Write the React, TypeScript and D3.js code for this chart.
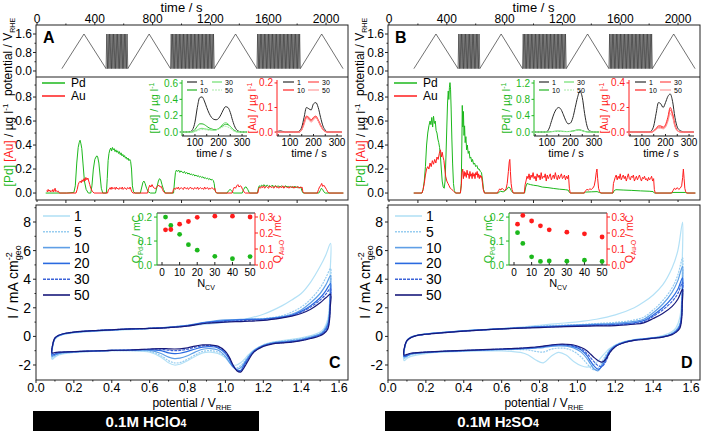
import React from "react";
import * as d3 from "d3";

type P = [number, number];
const run = (t0: number, dt: number, v: number[]): P[] => v.map((y, i) => [t0 + i * dt, y] as P);

// ---------------- potential program (s) ----------------
const slowCVs: number[][] = [[172, 478], [628, 924], [1226, 1522], [1822, 2118]];
const fastBlocks: number[][] = [[478, 628, 16], [924, 1226, 32], [1522, 1822, 32]];
const potLow = 0.1;
const potHigh = 1.6;

// ---------------- tick labels ----------------
const timeTicks = [0, 400, 800, 1200, 1600, 2000];
const potTicks = [0, 0.8, 1.6];
const concTicks = [0, 0.2, 0.4, 0.6, 0.8];
const cvYTicks = [-2, 0, 2, 4, 6, 8];
const cvXTicks = [0, 0.2, 0.4, 0.6, 0.8, 1.0, 1.2, 1.4, 1.6];
const insetTimeTicks = [100, 200, 300];
const nTicks = [0, 10, 20, 30, 40, 50];
const qPdTicks = [0, 0.1, 0.2];
const qAuTicks = [0, 0.1, 0.2, 0.3];

// ---------------- dissolution profiles (time s, µg/l) ----------------
const pdA: P[] = [
  [60, 0], [205, 0], [255, 0.005], [265, 0.06], [275, 0.25], [285, 0.38], [292, 0.42], [298, 0.44], [304, 0.41], [310, 0.37], [318, 0.25], [328, 0.1], [340, 0.03], [355, 0],
  [372, 0], [380, 0.06], [390, 0.2], [400, 0.28], [408, 0.3], [414, 0.31], [420, 0.3], [428, 0.25], [436, 0.15], [445, 0.04], [455, 0],
  [480, 0], [486, 0.12], [492, 0.27], [498, 0.33],
  ...run(504, 6, [0.36, 0.375, 0.35, 0.38, 0.36, 0.37, 0.345, 0.36, 0.34, 0.352, 0.33, 0.345, 0.32, 0.335, 0.31, 0.322, 0.3, 0.312, 0.29, 0.3, 0.28, 0.292, 0.27, 0.28, 0.262]),
  [654, 0.2], [660, 0.06], [668, 0.01], [680, 0],
  [715, 0], [725, 0.05], [733, 0.09], [740, 0.1], [748, 0.08], [758, 0.04], [770, 0.01], [785, 0],
  [820, 0], [830, 0.05], [840, 0.1], [848, 0.12], [856, 0.11], [865, 0.07], [875, 0.03], [888, 0],
  [945, 0], [952, 0.1], [958, 0.17],
  ...run(964, 8, [0.19, 0.18, 0.192, 0.172, 0.185, 0.175, 0.168, 0.18, 0.162, 0.172, 0.158, 0.167, 0.152, 0.16, 0.148, 0.156, 0.142, 0.15, 0.138, 0.146, 0.132, 0.14, 0.128, 0.136, 0.122, 0.13, 0.118, 0.125, 0.112, 0.12, 0.108, 0.114, 0.104]),
  [1226, 0.08], [1232, 0.02], [1242, 0],
  [1315, 0], [1326, 0.02], [1336, 0.03], [1346, 0.02], [1358, 0],
  [1420, 0], [1430, 0.03], [1440, 0.05], [1448, 0.05], [1458, 0.03], [1470, 0],
  [1525, 0], [1532, 0.04],
  ...run(1538, 8, [0.06, 0.055, 0.066, 0.058, 0.07, 0.055, 0.062, 0.066, 0.054, 0.06, 0.052, 0.065, 0.058, 0.054, 0.062, 0.05, 0.06, 0.055, 0.05, 0.06, 0.054, 0.05, 0.056, 0.06, 0.05, 0.055, 0.048, 0.055, 0.05, 0.045, 0.052, 0.055, 0.048, 0.045, 0.05, 0.044, 0.05]),
  [1832, 0.02], [1842, 0],
  [1950, 0], [1960, 0.02], [1968, 0.04], [1976, 0.03], [1985, 0.01], [1995, 0], [2120, 0],
];

const auA: P[] = [
  [67, 0.02], [72, 0.01], [77, 0.03], [82, 0.015], [88, 0.025], [93, 0.01], [98, 0.02], [104, 0.012], [110, 0.03], [115, 0.01], [120, 0.02], [125, 0.04], [130, 0.012], [136, 0.02], [142, 0.01], [148, 0.015], [155, 0],
  [270, 0], [278, 0.03], [285, 0.07], [292, 0.09], [300, 0.1], [306, 0.085], [312, 0.11], [318, 0.095], [325, 0.12], [332, 0.1], [338, 0.13], [345, 0.11], [352, 0.125], [358, 0.1], [365, 0.07], [372, 0.04], [382, 0.015], [395, 0],
  [488, 0], [494, 0.025],
  ...run(500, 6, [0.035, 0.045, 0.03, 0.05, 0.035, 0.04, 0.045, 0.03, 0.05, 0.035, 0.04, 0.03, 0.045, 0.04, 0.035, 0.05, 0.03, 0.04, 0.045, 0.035, 0.03, 0.045, 0.04, 0.035, 0.05, 0.03]),
  [656, 0.01], [664, 0],
  [765, 0], [772, 0.04], [780, 0.065], [788, 0.05], [796, 0.07], [804, 0.05], [812, 0.04], [820, 0.035], [828, 0.05], [836, 0.06], [844, 0.065], [852, 0.05], [860, 0.055], [868, 0.03], [876, 0.01], [885, 0],
  [938, 0], [944, 0.03],
  ...run(950, 7, [0.04, 0.03, 0.045, 0.035, 0.05, 0.03, 0.04, 0.045, 0.035, 0.03, 0.05, 0.04, 0.035, 0.045, 0.03, 0.04, 0.05, 0.035, 0.04, 0.03, 0.045, 0.04, 0.035, 0.05, 0.03, 0.04, 0.045, 0.035, 0.04, 0.03, 0.05, 0.035, 0.04, 0.045, 0.03, 0.04, 0.035, 0.045, 0.04, 0.03, 0.04]),
  [1236, 0.01], [1244, 0],
  [1350, 0], [1358, 0.03], [1366, 0.05], [1374, 0.04], [1382, 0.06], [1390, 0.07], [1398, 0.05], [1406, 0.06], [1414, 0.055], [1422, 0.03], [1432, 0.01], [1442, 0],
  [1528, 0], [1534, 0.035],
  ...run(1540, 7, [0.05, 0.04, 0.055, 0.045, 0.06, 0.04, 0.05, 0.055, 0.045, 0.04, 0.06, 0.05, 0.045, 0.055, 0.04, 0.05, 0.06, 0.045, 0.05, 0.04, 0.055, 0.05, 0.045, 0.06, 0.04, 0.05, 0.055, 0.045, 0.05, 0.04, 0.055, 0.045, 0.05, 0.055, 0.04, 0.05, 0.045, 0.055, 0.05, 0.04, 0.05, 0.045, 0.05]),
  [1840, 0.01], [1848, 0],
  [1940, 0], [1948, 0.03], [1955, 0.05], [1962, 0.06], [1970, 0.08], [1977, 0.055], [1985, 0.065], [1993, 0.05], [2003, 0.03], [2012, 0.01], [2020, 0], [2120, 0],
];

const pdB: P[] = [
  [171, 0], [228, 0], [236, 0.03], [244, 0.1], [252, 0.22], [260, 0.4], [268, 0.5], [276, 0.56], [284, 0.6], [290, 0.57], [296, 0.63], [302, 0.55], [308, 0.64], [314, 0.58], [320, 0.6], [326, 0.52], [332, 0.5], [338, 0.45], [344, 0.42], [350, 0.38], [356, 0.3], [362, 0.2], [368, 0.1], [375, 0.05], [382, 0.04],
  [388, 0.1], [394, 0.3], [400, 0.55], [405, 0.75], [410, 0.85], [414, 0.78], [418, 0.88], [422, 0.92], [426, 0.86], [430, 0.7], [435, 0.45], [440, 0.25], [446, 0.08], [452, 0.02], [460, 0],
  [494, 0], [500, 0.08], [504, 0.4], [507, 0.73], [511, 0.55], [515, 0.68], [519, 0.48], [523, 0.56], [527, 0.42], [532, 0.47], [537, 0.36], [542, 0.4], [548, 0.33], [554, 0.35], [560, 0.29], [566, 0.3], [572, 0.26], [578, 0.28], [585, 0.24], [592, 0.25], [600, 0.22], [608, 0.23], [616, 0.2], [624, 0.2], [632, 0.18], [640, 0.17], [648, 0.1], [654, 0.03], [662, 0],
  [755, 0], [770, 0.015], [790, 0.01], [805, 0.02], [815, 0.03], [822, 0.045], [830, 0.05], [838, 0.04], [846, 0.02], [855, 0.005], [865, 0],
  [938, 0], [946, 0.05], [955, 0.08], [965, 0.075], [980, 0.07], [1000, 0.065], [1030, 0.06], [1060, 0.05], [1100, 0.045], [1140, 0.038], [1180, 0.032], [1220, 0.028], [1240, 0.024], [1248, 0.005], [1256, 0],
  [1350, 0], [1360, 0.008], [1400, 0.01], [1440, 0.012], [1455, 0.005], [1465, 0],
  [1550, 0], [1558, 0.02], [1570, 0.028], [1620, 0.025], [1680, 0.022], [1740, 0.018], [1800, 0.015], [1828, 0.012], [1836, 0],
  [1955, 0], [1965, 0.005], [2050, 0.005], [2060, 0], [2120, 0],
];

const auB: P[] = [
  [171, 0], [228, 0], [236, 0.03], [244, 0.08], [252, 0.15], [260, 0.2], [268, 0.22], [276, 0.2], [284, 0.25], [292, 0.22], [300, 0.27], [308, 0.24], [316, 0.28], [324, 0.25], [332, 0.3], [340, 0.28], [348, 0.33], [356, 0.36], [362, 0.3], [368, 0.34], [374, 0.3], [380, 0.27], [386, 0.2], [392, 0.14], [400, 0.1], [408, 0.08], [416, 0.06], [424, 0.04], [434, 0.03], [444, 0.02], [452, 0.01], [460, 0],
  [494, 0], [500, 0.06], [505, 0.17],
  ...run(510, 5, [0.2, 0.12, 0.18, 0.14, 0.17, 0.13, 0.19, 0.15, 0.16, 0.12, 0.18, 0.14, 0.16, 0.12, 0.17, 0.14, 0.16, 0.12, 0.17, 0.15, 0.18, 0.13, 0.16, 0.12, 0.15, 0.13, 0.14]),
  [646, 0.09], [652, 0.03], [660, 0],
  [750, 0], [758, 0.02], [766, 0.035], [774, 0.025], [782, 0.04], [790, 0.03], [800, 0.02], [810, 0.035], [818, 0.08], [826, 0.18], [832, 0.26], [836, 0.28], [840, 0.18], [845, 0.08], [851, 0.03], [860, 0],
  [936, 0], [942, 0.07],
  ...run(948, 7, [0.1, 0.14, 0.12, 0.16, 0.11, 0.15, 0.13, 0.17, 0.12, 0.14, 0.1, 0.16, 0.13, 0.15, 0.11, 0.17, 0.12, 0.14, 0.13, 0.16, 0.1, 0.15, 0.12, 0.14, 0.16, 0.11, 0.13, 0.15, 0.12, 0.17, 0.13, 0.11, 0.15, 0.12, 0.14, 0.16, 0.12, 0.13, 0.15, 0.11, 0.14, 0.12, 0.15]),
  [1248, 0.04], [1254, 0],
  [1350, 0], [1360, 0.02], [1370, 0.03], [1380, 0.025], [1390, 0.035], [1400, 0.03], [1410, 0.04], [1420, 0.06], [1428, 0.11], [1434, 0.17], [1439, 0.2], [1444, 0.12], [1450, 0.04], [1458, 0.01], [1466, 0],
  [1548, 0], [1553, 0.08],
  ...run(1558, 7, [0.1, 0.13, 0.15, 0.11, 0.14, 0.12, 0.16, 0.11, 0.13, 0.15, 0.12, 0.14, 0.1, 0.13, 0.16, 0.12, 0.11, 0.14, 0.13, 0.15, 0.1, 0.12, 0.14, 0.11, 0.13, 0.15, 0.12, 0.1, 0.13, 0.12, 0.14, 0.11, 0.12, 0.1, 0.13, 0.11, 0.12, 0.14, 0.1, 0.12]),
  [1836, 0.03], [1842, 0],
  [1955, 0], [1965, 0.02], [1975, 0.04], [1985, 0.03], [1995, 0.045], [2005, 0.03], [2015, 0.04], [2025, 0.06], [2032, 0.13], [2037, 0.2], [2042, 0.12], [2047, 0.04], [2053, 0.01], [2062, 0], [2120, 0],
];

// ---------------- inset transients (time s) ----------------
const insetCycles = ["1", "10", "30", "50"];
const tIns = [40, 60, 80, 90, 100, 110, 120, 130, 140, 150, 160, 170, 180, 190, 200, 210, 220, 230, 240, 250, 260, 270, 280, 300, 320];
const insPdA = [
  [0, 0, 0.005, 0.03, 0.12, 0.3, 0.42, 0.43, 0.38, 0.3, 0.23, 0.18, 0.155, 0.15, 0.165, 0.21, 0.27, 0.31, 0.3, 0.24, 0.14, 0.06, 0.02, 0, 0],
  [0, 0, 0, 0.005, 0.03, 0.07, 0.1, 0.1, 0.09, 0.07, 0.05, 0.04, 0.03, 0.03, 0.04, 0.06, 0.08, 0.095, 0.09, 0.07, 0.04, 0.015, 0.005, 0, 0],
  [0, 0, 0, 0, 0.01, 0.025, 0.04, 0.045, 0.04, 0.035, 0.03, 0.025, 0.02, 0.025, 0.04, 0.07, 0.1, 0.115, 0.1, 0.07, 0.035, 0.01, 0, 0, 0],
  [0, 0, 0, 0, 0.005, 0.015, 0.025, 0.03, 0.03, 0.025, 0.02, 0.02, 0.02, 0.025, 0.035, 0.05, 0.065, 0.07, 0.06, 0.045, 0.02, 0.005, 0, 0, 0],
];
const insAuA = [
  [0, 0.005, 0, 0, 0, 0, 0, 0, 0.005, 0.02, 0.06, 0.1, 0.095, 0.09, 0.115, 0.12, 0.1, 0.06, 0.025, 0.008, 0, 0, 0, 0, 0],
  [0, 0, 0, 0, 0, 0, 0, 0, 0, 0.01, 0.04, 0.065, 0.06, 0.05, 0.06, 0.065, 0.05, 0.03, 0.012, 0.003, 0, 0, 0, 0, 0],
  [0, 0, 0, 0, 0, 0, 0, 0, 0, 0.01, 0.035, 0.06, 0.055, 0.045, 0.055, 0.06, 0.045, 0.025, 0.01, 0.002, 0, 0, 0, 0, 0],
  [0, 0, 0, 0, 0, 0, 0, 0, 0, 0.008, 0.03, 0.055, 0.05, 0.04, 0.05, 0.058, 0.045, 0.025, 0.01, 0.002, 0, 0, 0, 0, 0],
];
const insPdB = [
  [0, 0, 0, 0, 0.01, 0.1, 0.28, 0.45, 0.56, 0.6, 0.55, 0.42, 0.28, 0.2, 0.22, 0.35, 0.6, 0.85, 1.0, 0.85, 0.45, 0.15, 0.03, 0, 0],
  [0, 0, 0, 0, 0, 0.005, 0.01, 0.015, 0.02, 0.02, 0.018, 0.015, 0.012, 0.012, 0.015, 0.025, 0.04, 0.05, 0.05, 0.035, 0.015, 0.005, 0, 0, 0],
  [0, 0, 0, 0, 0, 0.005, 0.01, 0.012, 0.015, 0.015, 0.014, 0.012, 0.01, 0.01, 0.013, 0.02, 0.035, 0.045, 0.045, 0.03, 0.012, 0.004, 0, 0, 0],
  [0, 0, 0, 0, 0, 0.003, 0.008, 0.01, 0.012, 0.012, 0.012, 0.01, 0.008, 0.008, 0.01, 0.018, 0.03, 0.04, 0.04, 0.028, 0.01, 0.003, 0, 0, 0],
];
const insAuB = [
  [0, 0, 0, 0, 0, 0, 0, 0, 0.01, 0.05, 0.15, 0.24, 0.23, 0.2, 0.24, 0.29, 0.31, 0.25, 0.12, 0.04, 0.015, 0.005, 0, 0, 0],
  [0, 0, 0, 0, 0, 0, 0, 0, 0, 0.01, 0.03, 0.05, 0.05, 0.04, 0.06, 0.12, 0.2, 0.15, 0.06, 0.015, 0.003, 0, 0, 0, 0],
  [0, 0, 0, 0, 0, 0, 0, 0, 0, 0.008, 0.025, 0.04, 0.04, 0.032, 0.05, 0.1, 0.18, 0.14, 0.05, 0.012, 0.002, 0, 0, 0, 0],
  [0, 0, 0, 0, 0, 0, 0, 0, 0, 0.006, 0.02, 0.032, 0.032, 0.026, 0.04, 0.085, 0.15, 0.12, 0.045, 0.01, 0.002, 0, 0, 0, 0],
];
const insPdTicksA = [0, 0.2, 0.4, 0.6];
const insPdTicksB = [0, 0.4, 0.8, 1.2];
const insAuTicksA = [0, 0.1, 0.2];
const insAuTicksB = [0, 0.2, 0.4];

// ---------------- cyclic voltammograms (V_RHE, mA cm-2) ----------------
const cvCycles = ["1", "5", "10", "20", "30", "50"];
const eUp = [0.085, 0.09, 0.1, 0.12, 0.15, 0.2, 0.3, 0.4, 0.5, 0.6, 0.7, 0.8, 0.9, 1.0, 1.1, 1.2, 1.3, 1.35, 1.4, 1.45, 1.5, 1.53, 1.555];
const eDownC = [1.555, 1.553, 1.55, 1.54, 1.52, 1.5, 1.45, 1.4, 1.35, 1.3, 1.25, 1.2, 1.15, 1.12, 1.1, 1.08, 1.06, 1.04, 1.02, 1.0, 0.96, 0.92, 0.88, 0.84, 0.8, 0.76, 0.73, 0.7, 0.66, 0.6, 0.5, 0.4, 0.3, 0.2, 0.12, 0.1, 0.085];
const eDownD = [1.555, 1.553, 1.55, 1.54, 1.52, 1.5, 1.45, 1.4, 1.35, 1.3, 1.25, 1.2, 1.17, 1.15, 1.13, 1.11, 1.09, 1.07, 1.05, 1.02, 0.98, 0.94, 0.9, 0.86, 0.82, 0.78, 0.74, 0.7, 0.65, 0.6, 0.5, 0.4, 0.3, 0.2, 0.12, 0.1, 0.085];

const cvUpC = [
  [-1.6, -0.6, -0.2, 0.02, 0.15, 0.25, 0.35, 0.42, 0.48, 0.55, 0.65, 0.75, 0.85, 1.0, 1.2, 1.55, 2.15, 2.55, 3.0, 3.8, 4.9, 5.7, 6.5],
  [-1.5, -0.55, -0.17, 0.04, 0.17, 0.27, 0.37, 0.44, 0.5, 0.56, 0.65, 0.78, 0.95, 1.1, 1.18, 1.25, 1.45, 1.7, 2.05, 2.6, 3.4, 4.1, 4.75],
  [-1.4, -0.52, -0.15, 0.05, 0.18, 0.28, 0.38, 0.45, 0.51, 0.56, 0.64, 0.78, 1.0, 1.15, 1.2, 1.22, 1.38, 1.55, 1.85, 2.35, 3.0, 3.6, 4.25],
  [-1.3, -0.5, -0.13, 0.06, 0.19, 0.29, 0.39, 0.46, 0.52, 0.56, 0.63, 0.76, 0.98, 1.1, 1.18, 1.2, 1.35, 1.48, 1.75, 2.15, 2.7, 3.2, 3.7],
  [-1.2, -0.48, -0.12, 0.07, 0.2, 0.3, 0.4, 0.46, 0.52, 0.56, 0.62, 0.74, 0.95, 1.05, 1.12, 1.17, 1.32, 1.45, 1.7, 2.05, 2.55, 2.95, 3.35],
  [-1.15, -0.45, -0.1, 0.08, 0.2, 0.3, 0.4, 0.46, 0.52, 0.56, 0.62, 0.72, 0.92, 1.0, 1.05, 1.12, 1.3, 1.42, 1.6, 1.9, 2.35, 2.7, 2.95],
];
const cvDownC = [
  [6.5, 4.5, 2.5, 1.2, 0.55, 0.3, 0.05, -0.1, -0.2, -0.3, -0.4, -0.6, -0.95, -1.3, -1.6, -1.85, -2.0, -2.0, -1.8, -1.5, -1.2, -1.1, -1.15, -1.4, -1.7, -1.95, -2.0, -1.85, -1.45, -1.1, -1.0, -1.0, -1.05, -1.12, -1.3, -1.45, -1.6],
  [4.75, 3.3, 2.0, 1.0, 0.45, 0.22, 0.0, -0.15, -0.25, -0.33, -0.42, -0.6, -1.0, -1.4, -1.75, -2.05, -2.2, -2.1, -1.8, -1.45, -1.1, -1.0, -1.05, -1.3, -1.6, -1.83, -1.85, -1.7, -1.35, -1.05, -1.0, -1.0, -1.05, -1.1, -1.25, -1.4, -1.5],
  [4.25, 3.0, 1.8, 0.9, 0.4, 0.18, -0.05, -0.2, -0.3, -0.37, -0.45, -0.62, -1.0, -1.45, -1.85, -2.2, -2.3, -2.15, -1.8, -1.4, -0.95, -0.85, -0.9, -1.1, -1.35, -1.52, -1.55, -1.45, -1.2, -0.98, -0.97, -0.98, -1.03, -1.08, -1.2, -1.32, -1.4],
  [3.7, 2.6, 1.6, 0.75, 0.32, 0.12, -0.1, -0.25, -0.35, -0.42, -0.48, -0.65, -1.05, -1.55, -1.95, -2.38, -2.35, -2.1, -1.6, -1.2, -0.8, -0.72, -0.75, -0.88, -1.05, -1.18, -1.2, -1.15, -1.0, -0.92, -0.95, -0.98, -1.02, -1.07, -1.15, -1.25, -1.3],
  [3.35, 2.3, 1.4, 0.6, 0.25, 0.08, -0.12, -0.28, -0.38, -0.44, -0.5, -0.67, -1.08, -1.6, -2.05, -2.45, -2.35, -2.05, -1.5, -1.1, -0.72, -0.65, -0.66, -0.75, -0.9, -0.98, -1.0, -0.97, -0.9, -0.9, -0.95, -0.98, -1.02, -1.07, -1.12, -1.18, -1.2],
  [2.95, 2.0, 1.2, 0.5, 0.2, 0.05, -0.15, -0.3, -0.4, -0.46, -0.52, -0.7, -1.1, -1.7, -2.15, -2.5, -2.4, -2.0, -1.45, -1.05, -0.68, -0.6, -0.6, -0.68, -0.8, -0.87, -0.88, -0.87, -0.85, -0.88, -0.95, -0.98, -1.02, -1.07, -1.1, -1.13, -1.15],
];
const cvUpD = [
  [-1.7, -0.7, -0.3, -0.05, 0.08, 0.18, 0.3, 0.4, 0.48, 0.55, 0.65, 0.78, 0.9, 1.02, 1.2, 1.5, 2.0, 2.4, 2.9, 3.6, 4.8, 6.0, 8.0],
  [-1.55, -0.68, -0.3, -0.06, 0.07, 0.17, 0.29, 0.39, 0.47, 0.54, 0.62, 0.72, 0.78, 0.82, 0.9, 0.98, 1.15, 1.35, 1.85, 2.5, 3.4, 4.3, 5.5],
  [-1.45, -0.66, -0.3, -0.07, 0.06, 0.16, 0.28, 0.38, 0.46, 0.53, 0.6, 0.68, 0.74, 0.8, 0.86, 0.92, 1.05, 1.2, 1.65, 2.25, 3.1, 3.9, 4.9],
  [-1.4, -0.64, -0.3, -0.08, 0.06, 0.16, 0.28, 0.38, 0.46, 0.53, 0.6, 0.66, 0.7, 0.76, 0.8, 0.85, 0.95, 1.1, 1.5, 2.0, 2.7, 3.3, 4.1],
  [-1.35, -0.62, -0.3, -0.09, 0.05, 0.15, 0.27, 0.37, 0.45, 0.52, 0.59, 0.64, 0.68, 0.73, 0.77, 0.8, 0.9, 1.02, 1.4, 1.85, 2.45, 3.0, 3.8],
  [-1.3, -0.6, -0.3, -0.1, 0.05, 0.15, 0.27, 0.37, 0.45, 0.52, 0.58, 0.62, 0.66, 0.7, 0.73, 0.76, 0.85, 0.95, 1.25, 1.6, 2.1, 2.6, 3.3],
];
const cvDownD = [
  [8.0, 5.0, 2.6, 1.3, 0.6, 0.35, 0.05, -0.08, -0.15, -0.22, -0.35, -0.6, -0.85, -1.1, -1.4, -1.7, -1.95, -2.1, -2.15, -2.05, -1.75, -1.3, -1.12, -1.4, -1.85, -1.65, -1.3, -1.12, -1.05, -1.02, -1.02, -1.05, -1.1, -1.2, -1.4, -1.55, -1.7],
  [5.5, 3.5, 1.9, 0.9, 0.45, 0.25, 0.0, -0.1, -0.17, -0.24, -0.37, -0.62, -0.95, -1.3, -1.75, -2.2, -2.35, -2.2, -1.9, -1.45, -1.05, -0.85, -0.82, -0.9, -1.1, -1.05, -0.95, -0.92, -0.92, -0.93, -0.97, -1.02, -1.07, -1.15, -1.3, -1.45, -1.55],
  [4.9, 3.1, 1.7, 0.8, 0.4, 0.2, -0.02, -0.1, -0.18, -0.25, -0.38, -0.65, -1.0, -1.45, -1.95, -2.4, -2.3, -1.95, -1.55, -1.1, -0.8, -0.68, -0.66, -0.7, -0.78, -0.82, -0.85, -0.87, -0.9, -0.92, -0.96, -1.0, -1.05, -1.12, -1.25, -1.38, -1.45],
  [4.1, 2.7, 1.5, 0.7, 0.35, 0.17, -0.03, -0.11, -0.19, -0.26, -0.4, -0.68, -1.05, -1.6, -2.1, -2.3, -2.1, -1.75, -1.35, -0.95, -0.72, -0.62, -0.6, -0.65, -0.72, -0.78, -0.82, -0.85, -0.88, -0.9, -0.95, -1.0, -1.05, -1.12, -1.22, -1.33, -1.4],
  [3.8, 2.5, 1.4, 0.65, 0.32, 0.15, -0.04, -0.12, -0.2, -0.27, -0.42, -0.7, -1.15, -1.75, -2.1, -2.05, -1.8, -1.5, -1.2, -0.85, -0.65, -0.58, -0.57, -0.62, -0.7, -0.76, -0.8, -0.83, -0.86, -0.89, -0.94, -0.99, -1.04, -1.1, -1.2, -1.3, -1.35],
  [3.3, 2.2, 1.2, 0.55, 0.28, 0.12, -0.05, -0.13, -0.21, -0.28, -0.43, -0.72, -1.15, -1.6, -1.8, -1.7, -1.5, -1.25, -1.0, -0.78, -0.6, -0.55, -0.55, -0.6, -0.68, -0.74, -0.78, -0.82, -0.85, -0.88, -0.93, -0.98, -1.03, -1.1, -1.18, -1.26, -1.3],
];

// ---------------- oxide charges vs. cycle number ----------------
const nCV = [2, 5, 10, 15, 20, 30, 40, 50];
const qPdC = [0.2, 0.165, 0.128, 0.085, 0.062, 0.036, 0.026, 0.035];
const qAuC = [0.22, 0.222, 0.255, 0.272, 0.298, 0.305, 0.305, 0.3];
const qPdD = [0.135, 0.09, 0.034, 0.015, 0.017, 0.016, 0.02, 0.015];
const qAuD = [0.255, 0.31, 0.275, 0.245, 0.22, 0.205, 0.195, 0.175];

// ---------------- styles ----------------
const FONT = "'Liberation Sans', Arial, Helvetica, sans-serif";
const GREEN = "#1cb81c";
const RED = "#ff1c1c";
const AX = "#222";
const cvColors = ["#b4e1f6", "#98cdf0", "#5f9fe6", "#2a6ae0", "#3c63d8", "#17197a"];
const cvDash = ["", "2,1", "", "", "3,1", ""];
const insPdColors = ["#2b2b2b", "#22b422", "#6fe06f", "#aaeaaa"];
const insAuColors = ["#2b2b2b", "#ff2020", "#ff4a4a", "#ff9a9a"];
const insDash = ["", "", "", "2,1"];
const legendSlots = [
  [0, 0, 0],
  [1, 0, 2],
  [0, 1, 1],
  [1, 1, 3],
];

function Panel(props: any) {
  const { dx, S } = props;
  const xT = d3.scaleLinear().domain([-7, 2152]).range([36, 348]);
  const yP = d3.scaleLinear().domain([-0.26, 1.99]).range([77, 25]);
  const yC = d3.scaleLinear().domain([-0.058, 0.967]).range([200, 77]);
  const xE = d3.scaleLinear().domain([0, 1.647]).range([36, 348]);
  const yI = d3.scaleLinear().domain([-3.05, 9.19]).range([380, 205]);

  // potential waveform
  const segs = [
    ...slowCVs.map((s) => ({ a: s[0], b: s[1], n: 1 })),
    ...fastBlocks.map((f) => ({ a: f[0], b: f[1], n: f[2] })),
  ].sort((p, q) => p.a - q.a);
  const potPts: P[] = [];
  segs.forEach((sg) => {
    const per = (sg.b - sg.a) / sg.n;
    for (let k = 0; k < sg.n; k++) {
      potPts.push([sg.a + k * per, potLow], [sg.a + (k + 0.5) * per, potHigh]);
    }
    potPts.push([sg.b, potLow]);
  });
  const potLine = d3.line<P>().x((d) => xT(d[0])).y((d) => yP(d[1]));
  const concLine = d3.line<P>().x((d) => xT(d[0])).y((d) => yC(d[1]));

  // insets
  const xI1 = d3.scaleLinear().domain([45, 321]).range([182, 247]);
  const xI2 = d3.scaleLinear().domain([45, 321]).range([277, 342]);
  const yIPd = d3.scaleLinear().domain(S.pdInsDomain).range([136, 80]);
  const yIAu = d3.scaleLinear().domain(S.auInsDomain).range([136, 80]);
  const insLine = (xs: any, ys: any) =>
    d3.line<number>().x((_, i) => xs(tIns[i])).y((d) => ys(d)).curve(d3.curveMonotoneX);

  // CV loops
  const cvPath = d3
    .line<P>()
    .x((d) => xE(d[0]))
    .y((d) => yI(d[1]))
    .curve(d3.curveCatmullRomClosed.alpha(0.5));
  const loops = S.cvUp.map((up: number[], c: number) => {
    const pts: P[] = eUp.map((e, i) => [e, up[i]] as P);
    const lo: P[] = S.eDown.map((e: number, i: number) => [e, S.cvDown[c][i]] as P);
    return pts.concat(lo.slice(1, -1));
  });

  // scatter inset
  const xN = d3.scaleLinear().domain([-2.84, 52.8]).range([157, 255]);
  const yQPd = d3.scaleLinear().domain([0, 0.217]).range([265, 213]);
  const yQAu = d3.scaleLinear().domain([0, 0.325]).range([265, 213]);

  const f1 = d3.format(".1f");

  return (
    <g transform={`translate(${dx},0)`} fontFamily={FONT}>
      {/* top time axis */}
      <text x={xT(1000)} y={12} fontSize={13} textAnchor="middle">time / s</text>
      {timeTicks.map((t) => (
        <text key={"tt" + t} x={xT(t)} y={23} fontSize={12} textAnchor="middle">{t}</text>
      ))}
      {d3.range(0, 2150, 200).map((t) => (
        <line key={"tm" + t} x1={xT(t)} x2={xT(t)} y1={25} y2={t % 400 === 0 ? 22.5 : 23.5} stroke={AX} />
      ))}

      {/* frames */}
      <rect x={36} y={25} width={312} height={175} fill="none" stroke={AX} strokeWidth={1} />
      <line x1={36} x2={348} y1={77} y2={77} stroke={AX} />
      <rect x={36} y={205} width={312} height={175} fill="none" stroke={AX} strokeWidth={1} />

      {/* potential panel */}
      <path d={potLine(potPts) || ""} fill="none" stroke="#333" strokeWidth={0.7} />
      {potTicks.map((v) => (
        <g key={"pt" + v}>
          <line x1={33} x2={36} y1={yP(v)} y2={yP(v)} stroke={AX} />
          <text x={32} y={yP(v) + 4} fontSize={12} textAnchor="end">{f1(v)}</text>
        </g>
      ))}
      {[0.4, 1.2].map((v) => (
        <line key={"ptm" + v} x1={34.5} x2={36} y1={yP(v)} y2={yP(v)} stroke={AX} />
      ))}
      <text x={43} y={43} fontSize={16} fontWeight="bold">{S.letterTop}</text>
      <text transform="translate(12,57) rotate(-90)" fontSize={12} textAnchor="middle">
        potential / V<tspan fontSize={7} dy={3}>RHE</tspan>
      </text>

      {/* concentration panel */}
      {concTicks.map((v) => (
        <g key={"ct" + v}>
          <line x1={33} x2={36} y1={yC(v)} y2={yC(v)} stroke={AX} />
          <text x={32} y={yC(v) + 4} fontSize={12} textAnchor="end">{f1(v)}</text>
        </g>
      ))}
      {[0.1, 0.3, 0.5, 0.7, 0.9].map((v) => (
        <line key={"ctm" + v} x1={34.5} x2={36} y1={yC(v)} y2={yC(v)} stroke={AX} />
      ))}
      {d3.range(0, 2150, 200).map((t) => (
        <line key={"cb" + t} x1={xT(t)} x2={xT(t)} y1={200} y2={t % 400 === 0 ? 202 : 203} stroke={AX} />
      ))}
      <text transform="translate(13,145) rotate(-90)" fontSize={12} textAnchor="middle">
        <tspan fill={GREEN}>[Pd]</tspan>
        <tspan fill={RED}> [Au]</tspan>
        <tspan> / µg l</tspan>
        <tspan fontSize={8} dy={-5}>-1</tspan>
      </text>
      <path d={concLine(S.pd) || ""} fill="none" stroke={GREEN} strokeWidth={1} />
      <path d={concLine(S.au) || ""} fill="none" stroke={RED} strokeWidth={1} />
      <line x1={42} x2={65} y1={83} y2={83} stroke={GREEN} strokeWidth={1.5} />
      <text x={71} y={87} fontSize={12}>Pd</text>
      <line x1={42} x2={65} y1={96} y2={96} stroke={RED} strokeWidth={1.5} />
      <text x={71} y={100} fontSize={12}>Au</text>

      {/* Pd inset */}
      <line x1={182} x2={182} y1={80} y2={136} stroke={GREEN} />
      <line x1={182} x2={247} y1={136} y2={136} stroke={AX} />
      {S.pdInsTicks.map((v: number) => (
        <g key={"ipt" + v}>
          <line x1={179.5} x2={182} y1={yIPd(v)} y2={yIPd(v)} stroke={GREEN} />
          <text x={178} y={yIPd(v) + 3.5} fontSize={10} fill={GREEN} textAnchor="end">{f1(v)}</text>
        </g>
      ))}
      {d3.range(50, 321, 50).map((t) => (
        <line key={"ipx" + t} x1={xI1(t)} x2={xI1(t)} y1={136} y2={134} stroke={AX} />
      ))}
      {insetTimeTicks.map((t) => (
        <text key={"ipl" + t} x={xI1(t)} y={146} fontSize={10} textAnchor="middle">{t}</text>
      ))}
      <text x={214} y={157} fontSize={11} textAnchor="middle">time / s</text>
      <text transform="translate(158,108) rotate(-90)" fontSize={10.5} textAnchor="middle" fill={GREEN}>
        [Pd] / µg l<tspan fontSize={7} dy={-4}>-1</tspan>
      </text>
      {S.pdIns.map((c: number[], i: number) => (
        <path key={"ipc" + i} d={insLine(xI1, yIPd)(c) || ""} fill="none" stroke={insPdColors[i]} strokeWidth={1} strokeDasharray={insDash[i]} />
      ))}
      {legendSlots.map(([cx, ry, ci]) => (
        <g key={"ipg" + ci}>
          <line x1={187 + cx * 25} x2={197 + cx * 25} y1={82 + ry * 8} y2={82 + ry * 8} stroke={insPdColors[ci]} strokeWidth={1.2} strokeDasharray={insDash[ci]} />
          <text x={200 + cx * 25} y={84.5 + ry * 8} fontSize={7}>{insetCycles[ci]}</text>
        </g>
      ))}

      {/* Au inset */}
      <line x1={277} x2={277} y1={80} y2={136} stroke={RED} />
      <line x1={277} x2={342} y1={136} y2={136} stroke={AX} />
      {S.auInsTicks.map((v: number) => (
        <g key={"iat" + v}>
          <line x1={274.5} x2={277} y1={yIAu(v)} y2={yIAu(v)} stroke={RED} />
          <text x={273} y={yIAu(v) + 3.5} fontSize={10} fill={RED} textAnchor="end">{f1(v)}</text>
        </g>
      ))}
      {d3.range(50, 321, 50).map((t) => (
        <line key={"iax" + t} x1={xI2(t)} x2={xI2(t)} y1={136} y2={134} stroke={AX} />
      ))}
      {insetTimeTicks.map((t) => (
        <text key={"ial" + t} x={xI2(t)} y={146} fontSize={10} textAnchor="middle">{t}</text>
      ))}
      <text x={309} y={157} fontSize={11} textAnchor="middle">time / s</text>
      <text transform="translate(256,108) rotate(-90)" fontSize={10.5} textAnchor="middle" fill={RED}>
        [Au] / µg l<tspan fontSize={7} dy={-4}>-1</tspan>
      </text>
      {S.auIns.map((c: number[], i: number) => (
        <path key={"iac" + i} d={insLine(xI2, yIAu)(c) || ""} fill="none" stroke={insAuColors[i]} strokeWidth={1} />
      ))}
      {legendSlots.map(([cx, ry, ci]) => (
        <g key={"iag" + ci}>
          <line x1={283 + cx * 25} x2={294 + cx * 25} y1={82 + ry * 8} y2={82 + ry * 8} stroke={insAuColors[ci]} strokeWidth={1.2} />
          <text x={297 + cx * 25} y={84.5 + ry * 8} fontSize={7}>{insetCycles[ci]}</text>
        </g>
      ))}

      {/* CV panel */}
      {loops.map((pts: P[], c: number) => (
        <path key={"cv" + c} d={cvPath(pts) || ""} fill="none" stroke={cvColors[c]} strokeWidth={1.2} strokeDasharray={cvDash[c]} />
      ))}
      {cvYTicks.map((v) => (
        <g key={"cy" + v}>
          <line x1={33} x2={36} y1={yI(v)} y2={yI(v)} stroke={AX} />
          <text x={31} y={yI(v) + 5} fontSize={14} textAnchor="end">{v}</text>
        </g>
      ))}
      {[-1, 1, 3, 5, 7, 9].map((v) => (
        <line key={"cym" + v} x1={34.5} x2={36} y1={yI(v)} y2={yI(v)} stroke={AX} />
      ))}
      {cvXTicks.map((v) => (
        <g key={"cx" + v}>
          <line x1={xE(v)} x2={xE(v)} y1={380} y2={383} stroke={AX} />
          <text x={xE(v)} y={392} fontSize={12.5} textAnchor="middle">{f1(v)}</text>
        </g>
      ))}
      {d3.range(0.1, 1.65, 0.2).map((v) => (
        <line key={"cxm" + v} x1={xE(v)} x2={xE(v)} y1={380} y2={381.5} stroke={AX} />
      ))}
      <text x={192} y={407} fontSize={12} textAnchor="middle">
        potential / V<tspan fontSize={7.5} dy={3}>RHE</tspan>
      </text>
      <text transform="translate(18,282) rotate(-90)" fontSize={14} textAnchor="middle">
        I / mA cm<tspan fontSize={9} dy={-6}>-2</tspan>
        <tspan fontSize={9} dy={9} dx={-8}>geo</tspan>
      </text>
      <text x={329} y={368} fontSize={16} fontWeight="bold">{S.letterBottom}</text>
      {cvCycles.map((lab, i) => (
        <g key={"lg" + i}>
          <line x1={43} x2={70} y1={216 + i * 15.8} y2={216 + i * 15.8} stroke={cvColors[i]} strokeWidth={1.6} strokeDasharray={cvDash[i]} />
          <text x={74} y={221 + i * 15.8} fontSize={14}>{lab}</text>
        </g>
      ))}

      {/* scatter inset */}
      <line x1={157} x2={255} y1={213} y2={213} stroke={AX} />
      <line x1={157} x2={255} y1={265} y2={265} stroke={AX} />
      <line x1={157} x2={157} y1={213} y2={265} stroke={GREEN} />
      <line x1={255} x2={255} y1={213} y2={265} stroke={RED} />
      {qPdTicks.map((v) => (
        <g key={"qp" + v}>
          <line x1={154} x2={157} y1={yQPd(v)} y2={yQPd(v)} stroke={GREEN} />
          <text x={152} y={yQPd(v) + 3.5} fontSize={10} fill={GREEN} textAnchor="end">{f1(v)}</text>
        </g>
      ))}
      {qAuTicks.map((v) => (
        <g key={"qa" + v}>
          <line x1={255} x2={258} y1={yQAu(v)} y2={yQAu(v)} stroke={RED} />
          <text x={259.5} y={yQAu(v) + 3.5} fontSize={10} fill={RED}>{f1(v)}</text>
        </g>
      ))}
      {nTicks.map((n) => (
        <g key={"nt" + n}>
          <line x1={xN(n)} x2={xN(n)} y1={265} y2={262} stroke={AX} />
          <text x={xN(n)} y={276} fontSize={10} textAnchor="middle">{n}</text>
        </g>
      ))}
      <text x={206} y={287} fontSize={11} textAnchor="middle">
        N<tspan fontSize={7} dy={3}>CV</tspan>
      </text>
      <text transform="translate(140,239) rotate(-90)" fontSize={10.5} fill={GREEN} textAnchor="middle">
        Q<tspan fontSize={6.5} dy={2.5}>Pd-O</tspan>
        <tspan dy={-2.5}> / mC</tspan>
      </text>
      <text transform="translate(281,239) rotate(-90)" fontSize={10.5} fill={RED} textAnchor="middle">
        Q<tspan fontSize={6.5} dy={2.5}>Au-O</tspan>
        <tspan dy={-2.5}> / mC</tspan>
      </text>
      {S.qPd.map((q: number, i: number) => (
        <circle key={"sp" + i} cx={xN(nCV[i])} cy={yQPd(q)} r={2.4} fill={GREEN} />
      ))}
      {S.qAu.map((q: number, i: number) => (
        <circle key={"sa" + i} cx={xN(nCV[i])} cy={yQAu(q)} r={2.4} fill={RED} />
      ))}

      {/* electrolyte bar */}
      <rect x={33} y={411} width={226} height={20} fill="#000" />
      <text x={146} y={426.5} fontSize={15} fontWeight="bold" fill="#fff" textAnchor="middle" fontFamily={FONT}>
        {S.bar}
      </text>
    </g>
  );
}

const setA = {
  letterTop: "A",
  letterBottom: "C",
  pd: pdA,
  au: auA,
  pdIns: insPdA,
  auIns: insAuA,
  pdInsTicks: insPdTicksA,
  auInsTicks: insAuTicksA,
  pdInsDomain: [-0.049, 0.637],
  auInsDomain: [-0.016, 0.212],
  cvUp: cvUpC,
  cvDown: cvDownC,
  eDown: eDownC,
  qPd: qPdC,
  qAu: qAuC,
  bar: (
    <>
      0.1M HClO<tspan fontSize={10.5}>4</tspan>
    </>
  ),
};
const setB = {
  letterTop: "B",
  letterBottom: "D",
  pd: pdB,
  au: auB,
  pdIns: insPdB,
  auIns: insAuB,
  pdInsTicks: insPdTicksB,
  auInsTicks: insAuTicksB,
  pdInsDomain: [-0.098, 1.274],
  auInsDomain: [-0.032, 0.424],
  cvUp: cvUpD,
  cvDown: cvDownD,
  eDown: eDownD,
  qPd: qPdD,
  qAu: qAuD,
  bar: (
    <>
      0.1M H<tspan fontSize={10.5}>2</tspan>SO<tspan fontSize={10.5}>4</tspan>
    </>
  ),
};

export default function App() {
  return (
    <svg
      width={705}
      height={433}
      viewBox="0 0 705 433"
      style={{ position: "absolute", left: 0, top: 0, background: "#fff" }}
    >
      <rect x={0} y={0} width={705} height={433} fill="#fff" />
      <Panel dx={0} S={setA} />
      <Panel dx={352} S={setB} />
    </svg>
  );
}
